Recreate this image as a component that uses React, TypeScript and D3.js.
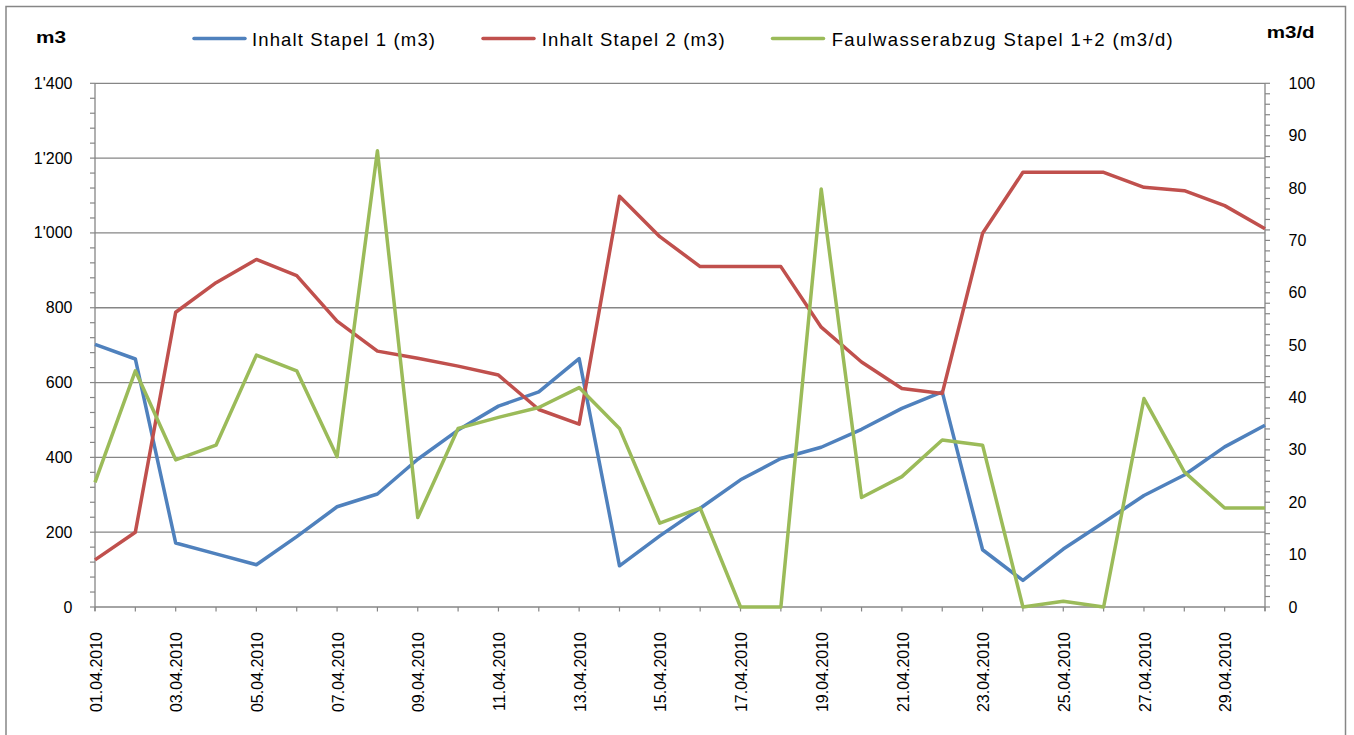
import React from "react";
import * as d3 from "d3";

const dates = [
  "01.04.2010","02.04.2010","03.04.2010","04.04.2010","05.04.2010","06.04.2010",
  "07.04.2010","08.04.2010","09.04.2010","10.04.2010","11.04.2010","12.04.2010",
  "13.04.2010","14.04.2010","15.04.2010","16.04.2010","17.04.2010","18.04.2010",
  "19.04.2010","20.04.2010","21.04.2010","22.04.2010","23.04.2010","24.04.2010",
  "25.04.2010","26.04.2010","27.04.2010","28.04.2010","29.04.2010","30.04.2010",
];

const stapel1 = [
  702, 663, 171, 142, 113, 188, 268, 302, 395, 473, 537, 575, 664, 110, 190,
  264, 340, 397, 427, 475, 531, 575, 153, 71, 155, 226, 298, 353, 428, 486,
];

const stapel2 = [
  126, 200, 788, 867, 929, 886, 764, 684, 665, 644, 620, 528, 489, 1098, 990,
  910, 910, 910, 748, 655, 584, 571, 999, 1162, 1162, 1162, 1122, 1113, 1073, 1011,
];

const faulwasser = [
  23.8, 45.1, 28.1, 30.9, 48.1, 45.1, 28.7, 87.1, 17.1, 34.1, 36.2, 38.1, 41.9, 34.1, 16.0,
  18.9, 0, 0, 79.8, 20.9, 24.9, 31.9, 30.9, 0, 1.1, 0, 39.8, 25.8, 18.9, 18.9,
];

const leftTicks = [0, 200, 400, 600, 800, 1000, 1200, 1400];
const rightTicks = [0, 10, 20, 30, 40, 50, 60, 70, 80, 90, 100];

const seriesNames = [
  "Inhalt Stapel 1 (m3)",
  "Inhalt Stapel 2 (m3)",
  "Faulwasserabzug Stapel 1+2 (m3/d)",
];
const colors = ["#4F81BD", "#C0504D", "#9BBB59"];

const fmtLeft = (v: number) => {
  if (v >= 1000) {
    const s = String(v);
    return s.slice(0, s.length - 3) + "'" + s.slice(s.length - 3);
  }
  return String(v);
};

export default function App() {
  const W = 1354;
  const H = 735;
  const left = 95;
  const right = 1265;
  const top = 83.3;
  const bottom = 607;
  const grid = "#868686";
  const font = "'Liberation Sans', Arial, sans-serif";

  const x = d3.scalePoint<string>().domain(dates).range([left, right]);
  const yL = d3.scaleLinear().domain([0, 1400]).range([bottom, top]);
  const yR = d3.scaleLinear().domain([0, 100]).range([bottom, top]);

  const lineL = d3
    .line<number>()
    .x((_, i) => x(dates[i]) as number)
    .y((d) => yL(d));
  const lineR = d3
    .line<number>()
    .x((_, i) => x(dates[i]) as number)
    .y((d) => yR(d));

  const leftMinor = d3.range(0, 1401, 40);
  const rightMinor = d3.range(0, 101, 2);

  const legend = [
    { lx: 194, tx: 252, len: 183 },
    { lx: 483, tx: 541.7, len: 183 },
    { lx: 772.5, tx: 831.7, len: 341 },
  ];

  return (
    <svg
      width={W}
      height={H}
      style={{ position: "absolute", left: 0, top: 0, display: "block", background: "#fff" }}
      fontFamily={font}
    >
      <rect x={0} y={0} width={W} height={H} fill="#fff" />
      <rect x={6} y={6.5} width={1339.5} height={760} fill="none" stroke={grid} strokeWidth={1.5} />

      {/* gridlines */}
      {leftTicks.map((t) => (
        <line key={"g" + t} x1={left} x2={right} y1={yL(t)} y2={yL(t)} stroke={grid} strokeWidth={1.3} />
      ))}

      {/* axes */}
      <line x1={left} x2={left} y1={top} y2={bottom + 4} stroke={grid} strokeWidth={1.3} />
      <line x1={right} x2={right} y1={top} y2={bottom + 4} stroke={grid} strokeWidth={1.3} />

      {leftMinor.map((t) => (
        <line key={"lm" + t} x1={left - 5} x2={left} y1={yL(t)} y2={yL(t)} stroke={grid} strokeWidth={1.2} />
      ))}
      {rightMinor.map((t) => (
        <line key={"rm" + t} x1={right} x2={right + 5} y1={yR(t)} y2={yR(t)} stroke={grid} strokeWidth={1.2} />
      ))}
      {dates.map((d) => (
        <line
          key={"xt" + d}
          x1={x(d) as number}
          x2={x(d) as number}
          y1={bottom}
          y2={bottom + 4.5}
          stroke={grid}
          strokeWidth={1.2}
        />
      ))}

      {/* tick labels */}
      {leftTicks.map((t) => (
        <text key={"lt" + t} x={72.5} y={yL(t) + 5.5} textAnchor="end" fontSize={16} fill="#000">
          {fmtLeft(t)}
        </text>
      ))}
      {rightTicks.map((t) => (
        <text key={"rt" + t} x={1288.5} y={yR(t) + 5.5} textAnchor="start" fontSize={16} fill="#000">
          {t}
        </text>
      ))}
      {dates.map((d, i) =>
        i % 2 === 0 ? (
          <text
            key={"dl" + d}
            transform={`translate(${(x(d) as number) + 1},632) rotate(-90)`}
            textAnchor="end"
            dy="0.35em"
            fontSize={16}
            fill="#000"
          >
            {d}
          </text>
        ) : null
      )}

      {/* axis titles */}
      <text x={36} y={43.3} fontSize={17} fontWeight="bold" textLength={30} lengthAdjust="spacingAndGlyphs" fill="#000">
        m3
      </text>
      <text x={1266.7} y={38.3} fontSize={17} fontWeight="bold" textLength={48} lengthAdjust="spacingAndGlyphs" fill="#000">
        m3/d
      </text>

      {/* series */}
      <path d={lineL(stapel1) || ""} fill="none" stroke={colors[0]} strokeWidth={3.5} strokeLinejoin="round" />
      <path d={lineL(stapel2) || ""} fill="none" stroke={colors[1]} strokeWidth={3.5} strokeLinejoin="round" />
      <path d={lineR(faulwasser) || ""} fill="none" stroke={colors[2]} strokeWidth={3.5} strokeLinejoin="round" />

      {/* legend */}
      {legend.map((l, i) => (
        <g key={"lg" + i}>
          <line x1={l.lx} x2={l.lx + 51} y1={38.5} y2={38.5} stroke={colors[i]} strokeWidth={3.5} strokeLinecap="round" />
          <text x={l.tx} y={45.5} fontSize={18.5} textLength={l.len} lengthAdjust="spacing" fill="#000">
            {seriesNames[i]}
          </text>
        </g>
      ))}
    </svg>
  );
}
